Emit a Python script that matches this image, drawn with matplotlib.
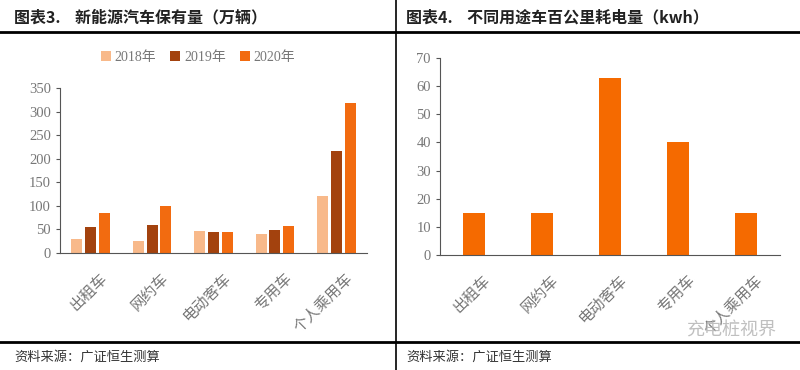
import numpy as np
import matplotlib.pyplot as plt
import matplotlib.transforms as mtransforms

plt.rcParams['font.family'] = ['Noto Sans CJK SC', 'DejaVu Sans']

# data
categories = ["出租车", "网约车", "电动客车", "专用车", "个人乘用车"]
years = ["2018年", "2019年", "2020年"]
stock_2018 = [30, 25, 46, 40, 120]
stock_2019 = [55, 60, 45, 48, 217]
stock_2020 = [85, 100, 44, 58, 318]
energy_kwh = [15, 15, 63, 40, 15]

colors = ["#F8B98A", "#A3420E", "#F26B10"]
gray = "#777777"
num_font = ["Liberation Serif", "DejaVu Serif"]

fig = plt.figure(figsize=(8, 3.7), dpi=100)

# frame lines and titles
fig.add_artist(plt.Line2D([0, 1], [1 - 32 / 370] * 2, color="black", lw=2))
fig.add_artist(plt.Line2D([0, 1], [1 - 342 / 370] * 2, color="black", lw=2))
fig.add_artist(plt.Line2D([396 / 800] * 2, [0, 1], color="black", lw=1.2))
fig.text(14 / 800, 1 - 17 / 370, "图表3.    新能源汽车保有量（万辆）", fontsize=11.5,
         fontweight="bold", va="center", color="#222222")
fig.text(406 / 800, 1 - 17 / 370, "图表4.    不同用途车百公里耗电量（kwh）", fontsize=11.5,
         fontweight="bold", va="center", color="#222222")
fig.text(14 / 800, 1 - 357 / 370, "资料来源：广证恒生测算", fontsize=9.5, va="center", color="#333333")
fig.text(406 / 800, 1 - 357 / 370, "资料来源：广证恒生测算", fontsize=9.5, va="center", color="#333333")
fig.text(776 / 800, 1 - 331 / 370, "充电桩视界", fontsize=13, ha="right", va="center",
         color="#b0b0b0", alpha=0.8)

# left chart: grouped bars
ax1 = fig.add_axes([60 / 800, 1 - 253 / 370, 307 / 800, 165 / 370])
x = np.arange(len(categories))
w = 0.18
for i, (vals, lab) in enumerate(zip([stock_2018, stock_2019, stock_2020], years)):
    ax1.bar(x + (i - 1) * 0.225, vals, w, color=colors[i], label=lab)
ax1.set_xlim(-0.5, 4.5)
ax1.set_ylim(0, 350)
ax1.set_yticks(range(0, 351, 50))
leg = ax1.legend(loc="lower center", bbox_to_anchor=(0.45, 1.07), ncol=3, frameon=False,
                 fontsize=10, handlelength=0.7, handleheight=0.7, handletextpad=0.3,
                 columnspacing=1.0, labelcolor=gray)
for t in leg.get_texts():
    t.set_family(["Liberation Serif", "Noto Sans CJK SC"])

# right chart: single series
ax2 = fig.add_axes([440 / 800, 1 - 255 / 370, 340 / 800, 197 / 370])
ax2.bar(x, energy_kwh, 0.31, color="#F56A00")
ax2.set_xlim(-0.5, 4.5)
ax2.set_ylim(0, 70)
ax2.set_yticks(range(0, 71, 10))

for ax in (ax1, ax2):
    for s in ("top", "right"):
        ax.spines[s].set_visible(False)
    for s in ("left", "bottom"):
        ax.spines[s].set_color("#555555")
        ax.spines[s].set_linewidth(0.8)
    ax.tick_params(axis="y", length=3, colors="#555555", labelsize=10.5)
    ax.tick_params(axis="x", length=0, pad=12)
    for t in ax.get_yticklabels():
        t.set_family(num_font)
        t.set_color(gray)
    ax.set_xticks(x)
    ax.set_xticklabels(categories, rotation=45, ha="right", rotation_mode="anchor",
                       fontsize=11, color=gray)
    # shift the rotated category labels right so they end near the tick
    off = mtransforms.ScaledTranslation(6 / 72, 0, fig.dpi_scale_trans)
    for t in ax.get_xticklabels():
        t.set_transform(t.get_transform() + off)

fig.savefig("out.png", dpi=100)
